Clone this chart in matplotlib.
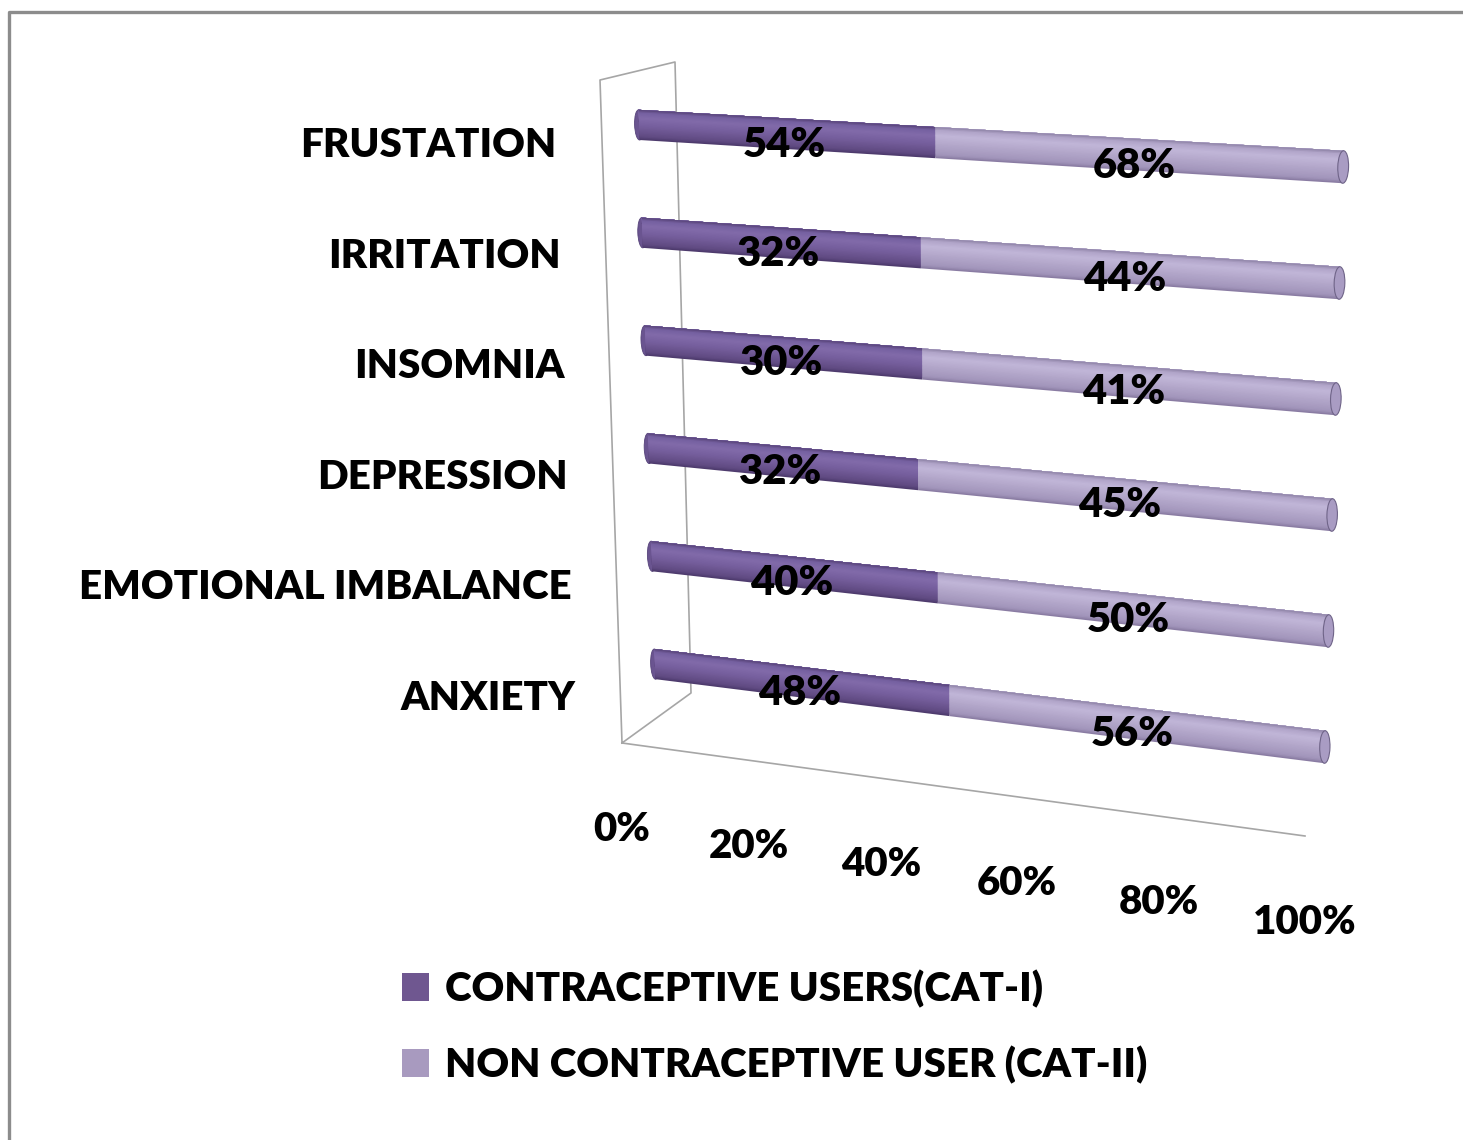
import numpy as np
import matplotlib
matplotlib.use('Agg')
import matplotlib.pyplot as plt
import matplotlib.transforms as mtransforms
from matplotlib.patches import Ellipse, Patch
from matplotlib.lines import Line2D

##########################################################################
## Data
##########################################################################

categories = ['ANXIETY', 'EMOTIONAL IMBALANCE', 'DEPRESSION',
              'INSOMNIA', 'IRRITATION', 'FRUSTATION']
cat1 = [48, 40, 32, 30, 32, 54]      # contraceptive users (%)
cat2 = [56, 50, 45, 41, 44, 68]      # non contraceptive users (%)
series_names = ['CONTRACEPTIVE USERS(CAT-I)', 'NON CONTRACEPTIVE USER (CAT-II)']
ticks = [0, 20, 40, 60, 80, 100]

##########################################################################
## Fake 3d projection (Excel style 100% stacked cylinder bars)
##########################################################################

W, H = 1463, 1140
N = len(categories)

# box corners in image pixels: BOX[u_end][v_end][depth_end]
BOX = np.array([
    [[(622, 743), (691, 693)], [(600, 80), (675, 62)]],
    [[(1305, 836), (1341, 774)], [(1325, 124), (1365, 94)]],
], float)
PERSP = -0.085


def proj(u, v, d):
    u, v, d = np.broadcast_arrays(np.asarray(u, float),
                                  np.asarray(v, float),
                                  np.asarray(d, float))
    t = u / 100.0
    g = t * (1 + PERSP) / (1 + PERSP * t)
    s = ((v + 0.5) / N)[..., None]
    dd = d[..., None]

    def end(i):
        c = BOX[i]
        lo = c[0][0] * (1 - dd) + c[0][1] * dd
        hi = c[1][0] * (1 - dd) + c[1][1] * dd
        return lo * (1 - s) + hi * s

    p0, p1 = end(0), end(1)
    p = p0 + g[..., None] * (p1 - p0)
    return p[..., 0], p[..., 1]


class PlaneTransform(mtransforms.Transform):
    input_dims = 2
    output_dims = 2
    is_separable = False
    has_inverse = False

    def __init__(self, fn):
        super().__init__()
        self.fn = fn

    def transform_non_affine(self, values):
        values = np.asarray(values, float).reshape(-1, 2)
        x, y = self.fn(values[:, 0], values[:, 1])
        return np.column_stack([x, y])


##########################################################################
## Drawing
##########################################################################

FONT = ['Lato', 'DejaVu Sans']
WEIGHT = 'heavy'
plt.rcParams['font.family'] = FONT

fig = plt.figure(figsize=(W / 100, H / 100), dpi=100)
ax = fig.add_axes([0, 0, 1, 1])
ax.set_xlim(0, W)
ax.set_ylim(H, 0)
ax.axis('off')

front = PlaneTransform(lambda a, b: proj(a, b, 0.0)) + ax.transData
mid = PlaneTransform(lambda a, b: proj(a, b, 0.5)) + ax.transData
side = PlaneTransform(lambda a, b: proj(0.0, b, a)) + ax.transData

# outer chart border (only top / left visible)
ax.add_line(Line2D([9, 9, W + 10], [H + 10, 12, 12], color='#8c8c8c', lw=2.4))

# walls and floor
wall = '#a6a6a6'
ax.plot([0, 0, 1, 1, 0], [-0.5, N - 0.5, N - 0.5, -0.5, -0.5],
        color=wall, lw=1.2, transform=side, zorder=1)
ax.plot([0, 100], [-0.5, -0.5], color=wall, lw=1.2, transform=front, zorder=1)

pos = np.arange(N)
tot = np.array(cat1, float) + np.array(cat2, float)
share1 = np.array(cat1) / tot * 100
share2 = 100 - share1

shade_s = [0.0, 0.12, 0.45, 0.72, 0.9, 1.0]
shade_dark = ['#4a3868', '#604a82', '#755e9c', '#826baa', '#7560a0', '#574378']
shade_light = ['#85779e', '#a295bb', '#b3a7ca', '#c1b6d8', '#b1a5c9', '#8e83a5']


def ramp(cols, k):
    rgb = np.array([matplotlib.colors.to_rgb(c) for c in cols])
    s = (np.arange(k) + 0.5) / k
    return [tuple(np.interp(x, shade_s, rgb[:, j]) for j in range(3)) for x in s]


bar_h = 0.28
K = 24
stripe = bar_h / K
dark_cols = ramp(shade_dark, K)
light_cols = ramp(shade_light, K)
cap_w = 1.4

# left caps
for p in pos:
    ax.add_patch(Ellipse((0, p), cap_w, bar_h, transform=mid,
                         facecolor='#6a5490', edgecolor='#56437a', lw=0.6, zorder=2))
# cylinder bodies: painted from the bottom edge upwards, each band overlapping the rest
for k in range(K):
    base = pos - bar_h / 2 + k * stripe
    rest = bar_h - k * stripe
    ax.barh(base + rest / 2, share1, height=rest, left=0,
            color=dark_cols[k], transform=mid, zorder=3, linewidth=0)
    ax.barh(base + rest / 2, share2, height=rest, left=share1,
            color=light_cols[k], transform=mid, zorder=3, linewidth=0)
# right caps
for p in pos:
    ax.add_patch(Ellipse((100, p), cap_w, bar_h, transform=mid,
                         facecolor='#a99cc3', edgecolor='#6f6488', lw=0.8, zorder=4))

# data labels
lab_tr = mtransforms.offset_copy(mid, fig=fig, x=0, y=-23, units='dots')
for p, a, b, s1, s2 in zip(pos, cat1, cat2, share1, share2):
    ax.text(s1 / 2, p, f'{a}%', transform=lab_tr, ha='center', va='baseline',
            fontsize=30, fontweight=WEIGHT, color='black', zorder=6)
    ax.text(s1 + s2 / 2, p, f'{b}%', transform=lab_tr, ha='center', va='baseline',
            fontsize=30, fontweight=WEIGHT, color='black', zorder=6)

# category labels
cat_tr = mtransforms.offset_copy(front, fig=fig, x=-45, y=-22, units='dots')
for p, name in zip(pos, categories):
    ax.text(0, p, name, transform=cat_tr, ha='right', va='baseline',
            fontsize=29, fontweight=WEIGHT, color='black')

# value axis tick labels
tick_tr = mtransforms.offset_copy(front, fig=fig, x=0, y=-98, units='dots')
for t in ticks:
    ax.text(t, -0.5, f'{t}%', transform=tick_tr, ha='center', va='baseline',
            fontsize=29, fontweight=WEIGHT, color='black')

# legend
handles = [Patch(facecolor='#6f5790', edgecolor='none'),
           Patch(facecolor='#a89abf', edgecolor='none')]
ax.legend(handles, series_names, loc='center left', bbox_to_anchor=(402, 1027),
          bbox_transform=ax.transData, frameon=False, borderpad=0, borderaxespad=0,
          handlelength=0.68, handleheight=0.68, handletextpad=0.38, labelspacing=0.95,
          prop={'family': FONT, 'weight': WEIGHT, 'size': 29})

fig.savefig('out.png', dpi=100)
